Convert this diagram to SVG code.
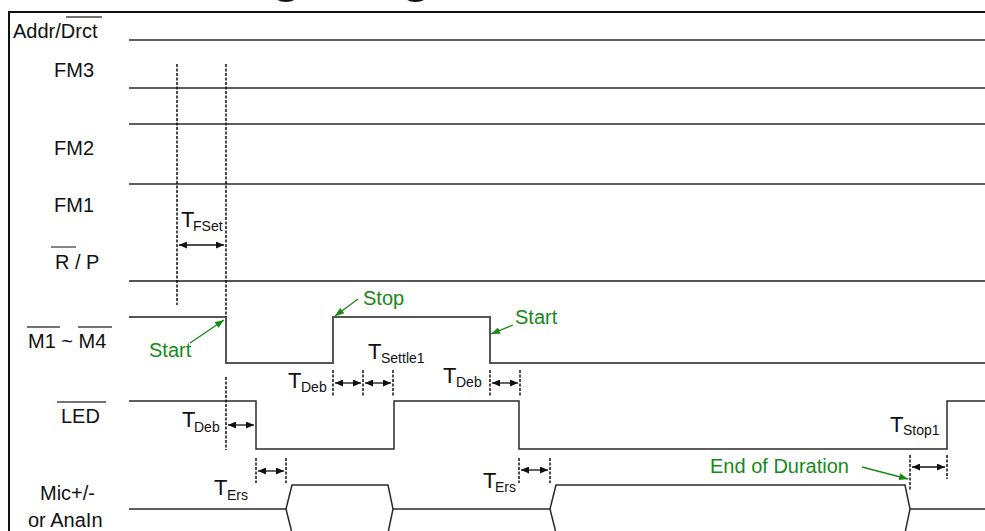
<svg xmlns="http://www.w3.org/2000/svg" width="985" height="531" viewBox="0 0 985 531">
<style>
text{font-family:"Liberation Sans",Arial,sans-serif;fill:#111}
.lbl{font-size:20px}
.T{font-size:22px}
.sub{font-size:14px}
.grn{font-size:20px;fill:#168a16}
.sig{fill:none;stroke:#2a2a2a;stroke-width:1.5}
.sig2{fill:none;stroke:#555;stroke-width:2}
.ov{stroke:#444;stroke-width:1.3}
.dash{stroke:#111;stroke-width:1.5;stroke-dasharray:3 1.5}
.dim{stroke:#111;stroke-width:1.3;marker-start:url(#ah);marker-end:url(#ah)}
.garr{stroke:#168a16;stroke-width:1.3;marker-end:url(#gh)}
</style>
<defs>
<marker id="ah" viewBox="0 0 8 7" refX="8" refY="3.5" markerWidth="8" markerHeight="7" markerUnits="userSpaceOnUse" orient="auto-start-reverse">
<path d="M0,0 L8,3.5 L0,7 z" fill="#111"/>
</marker>
<marker id="gh" viewBox="0 0 9 7" refX="9" refY="3.5" markerWidth="9" markerHeight="7" markerUnits="userSpaceOnUse" orient="auto">
<path d="M0,0 L9,3.5 L0,7 z" fill="#168a16"/>
</marker>
</defs>
<rect width="985" height="531" fill="#fff"/>
<text x="130" y="-9" style="font-size:53px;font-weight:bold">Timing Diagram</text>
<path d="M9,531 V12 H985" fill="none" stroke="#111" stroke-width="2"/>

<g id="addr">
<text class="lbl" x="13" y="38">Addr/Drct</text>
<line class="ov" x1="66" y1="17" x2="102" y2="17"/>
<line class="sig" x1="129" y1="40" x2="985" y2="40"/>
</g>
<g id="fm3">
<text class="lbl" x="54" y="77">FM3</text>
<line class="sig" x1="129" y1="88" x2="985" y2="88"/>
<line class="sig" x1="129" y1="124" x2="985" y2="124"/>
</g>
<g id="fm2">
<text class="lbl" x="54" y="155">FM2</text>
<line class="sig" x1="129" y1="184" x2="985" y2="184"/>
</g>
<g id="fm1">
<text class="lbl" x="54" y="212">FM1</text>
</g>
<g id="rp">
<text class="lbl" x="55" y="269">R / P</text>
<line class="ov" x1="51" y1="247" x2="76" y2="247"/>
<line class="sig2" x1="129" y1="281" x2="985" y2="281"/>
</g>
<g id="m1m4">
<text class="lbl" x="28" y="348">M1 ~ M4</text>
<line class="ov" x1="27" y1="327" x2="60" y2="327"/>
<line class="ov" x1="78" y1="327" x2="112" y2="327"/>
<path class="sig2" d="M129,317 H226 V363 H333 V317 H490 V363 H985"/>
</g>
<g id="led">
<text class="lbl" x="61" y="423">LED</text>
<line class="ov" x1="57" y1="402" x2="106" y2="402"/>
<path class="sig" d="M129,401 H256 V449 H394 V401 H519 V449 H947 V401 H985"/>
</g>
<g id="mic">
<text class="lbl" x="40" y="500">Mic+/-</text>
<text class="lbl" x="28" y="527">or AnaIn</text>
<path class="sig" d="M129,509 H286 L292,485 H388 L393,509 H550 L556,485 H905 L910,509 H985"/>
<path class="sig" d="M286,509 L292,533 M393,509 L388,533 M550,509 L556,533 M910,509 L905,533"/>
</g>

<g id="connectors">
<line class="dash" x1="177" y1="64" x2="177" y2="305"/>
<line class="dash" x1="226" y1="64" x2="226" y2="317"/>
<line class="dash" x1="226" y1="377" x2="226" y2="450"/>
<line class="dash" x1="256" y1="458" x2="256" y2="483"/>
<line class="dash" x1="286" y1="458" x2="286" y2="483"/>
<line class="dash" x1="333" y1="370" x2="333" y2="396"/>
<line class="dash" x1="363" y1="370" x2="363" y2="396"/>
<line class="dash" x1="393" y1="370" x2="393" y2="396"/>
<line class="dash" x1="490" y1="370" x2="490" y2="396"/>
<line class="dash" x1="520" y1="370" x2="520" y2="396"/>
<line class="dash" x1="519" y1="458" x2="519" y2="483"/>
<line class="dash" x1="550" y1="458" x2="550" y2="483"/>
<line class="dash" x1="910" y1="455" x2="910" y2="490"/>
<line class="dash" x1="947" y1="455" x2="947" y2="479"/>

<line class="dim" x1="179" y1="245" x2="224" y2="245"/>
<line class="dim" x1="228" y1="425" x2="254" y2="425"/>
<line class="dim" x1="258" y1="471" x2="284" y2="471"/>
<line class="dim" x1="335" y1="383" x2="361" y2="383"/>
<line class="dim" x1="365" y1="383" x2="391" y2="383"/>
<line class="dim" x1="492" y1="383" x2="518" y2="383"/>
<line class="dim" x1="521" y1="470" x2="548" y2="470"/>
<line class="dim" x1="912" y1="467" x2="945" y2="467"/>

<line class="garr" x1="190" y1="343" x2="224" y2="320"/>
<line class="garr" x1="358" y1="299" x2="335" y2="316"/>
<line class="garr" x1="513" y1="325" x2="491" y2="334"/>
<line class="garr" x1="862" y1="467" x2="908" y2="479"/>
</g>

<g id="timing-labels">
<text class="T" x="181" y="227">T</text><text class="sub" x="193" y="231">FSet</text>
<text class="T" x="182" y="427">T</text><text class="sub" x="194" y="432">Deb</text>
<text class="T" x="214" y="495">T</text><text class="sub" x="227" y="500">Ers</text>
<text class="T" x="288" y="388">T</text><text class="sub" x="301" y="392">Deb</text>
<text class="T" x="368" y="359">T</text><text class="sub" x="381" y="363">Settle1</text>
<text class="T" x="443" y="383">T</text><text class="sub" x="456" y="387">Deb</text>
<text class="T" x="483" y="488">T</text><text class="sub" x="495" y="492">Ers</text>
<text class="T" x="890" y="432">T</text><text class="sub" x="903" y="435">Stop1</text>
</g>
<g id="events">
<text class="grn" x="149" y="357">Start</text>
<text class="grn" x="363" y="305">Stop</text>
<text class="grn" x="515" y="324">Start</text>
<text class="grn" x="710" y="473">End of Duration</text>
</g>
</svg>
